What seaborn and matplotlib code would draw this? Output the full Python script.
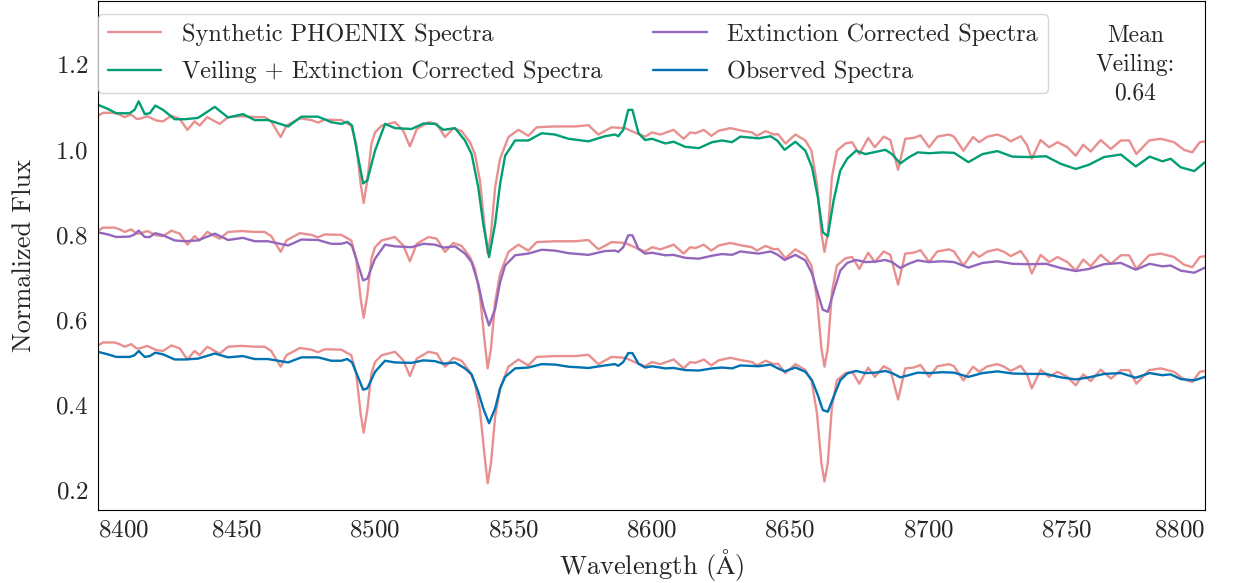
import numpy as np
import pandas as pd
import matplotlib
matplotlib.use("Agg")
import matplotlib.pyplot as plt
import seaborn as sns

# ---- data ----
syn_wave = [8400.0, 8401.8, 8406.0, 8407.8, 8409.6, 8412.0, 8413.9, 8415.1, 8417.8, 8421.1,
            8423.5, 8426.5, 8429.5, 8432.3, 8434.9, 8436.7, 8439.5, 8442.2, 8444.0, 8447.0,
            8451.8, 8456.6, 8460.2, 8462.6, 8464.4, 8466.0, 8468.1, 8472.9, 8477.1, 8479.5,
            8481.9, 8487.9, 8491.5, 8493.3, 8494.9, 8496.0, 8497.3, 8498.8,
            8500.1, 8502.5, 8507.3, 8510.3, 8512.7, 8515.2, 8519.4, 8522.4, 8525.4, 8528.4,
            8531.4, 8534.4, 8536.2, 8538.0, 8539.6, 8540.8, 8542.0, 8543.5, 8545.3, 8548.3,
            8551.9, 8555.5, 8558.5, 8565.1, 8572.4, 8577.2, 8580.8, 8585.6, 8590.4, 8595.3,
            8597.7,
            8600.2, 8603.2, 8608.0, 8611.6, 8614.0, 8615.9, 8618.9, 8621.6, 8624.3, 8628.5,
            8632.7, 8636.3, 8638.1, 8641.2, 8644.2, 8645.7, 8648.4, 8652.0, 8655.6, 8657.8,
            8659.8, 8661.4, 8662.5, 8663.7, 8665.2, 8667.0, 8670.1, 8672.5, 8675.1, 8678.3,
            8680.7, 8683.9, 8686.3, 8689.1, 8691.7, 8694.7, 8697.2,
            8700.3, 8703.3, 8707.5, 8709.3, 8712.7, 8716.2, 8718.4, 8721.4, 8725.0, 8727.4,
            8729.8, 8733.4, 8735.8, 8737.4, 8738.8, 8740.6, 8743.7, 8746.7, 8750.3, 8753.3,
            8756.0, 8758.7, 8762.3, 8766.0, 8769.6, 8772.6, 8775.2, 8779.8, 8784.0, 8788.8,
            8792.4, 8795.4, 8798.1, 8800.0]
syn_flux = [0.540, 0.547, 0.547, 0.543, 0.537, 0.543, 0.533, 0.533, 0.539, 0.529,
            0.527, 0.540, 0.533, 0.507, 0.527, 0.517, 0.537, 0.527, 0.521, 0.537,
            0.539, 0.537, 0.537, 0.527, 0.507, 0.490, 0.517, 0.534, 0.530, 0.524,
            0.531, 0.530, 0.517, 0.474, 0.380, 0.335, 0.388, 0.474,
            0.501, 0.517, 0.525, 0.505, 0.468, 0.509, 0.525, 0.521, 0.490, 0.511,
            0.504, 0.478, 0.450, 0.388, 0.286, 0.216, 0.263, 0.372, 0.439, 0.490,
            0.507, 0.493, 0.513, 0.515, 0.515, 0.518, 0.496, 0.513, 0.511, 0.497,
            0.491,
            0.501, 0.496, 0.507, 0.486, 0.501, 0.499, 0.507, 0.493, 0.505, 0.511,
            0.505, 0.501, 0.493, 0.504, 0.496, 0.497, 0.475, 0.496, 0.482, 0.458,
            0.380, 0.263, 0.220, 0.263, 0.396, 0.458, 0.475, 0.478, 0.450, 0.488,
            0.466, 0.491, 0.483, 0.413, 0.486, 0.488, 0.494,
            0.466, 0.491, 0.496, 0.491, 0.458, 0.490, 0.478, 0.491, 0.496, 0.490,
            0.480, 0.492, 0.470, 0.439, 0.458, 0.483, 0.466, 0.478, 0.466, 0.446,
            0.472, 0.456, 0.483, 0.462, 0.482, 0.482, 0.450, 0.482, 0.486, 0.478,
            0.460, 0.454, 0.478, 0.480]
syn_offsets = [0.0, 0.27, 0.54]

obs_wave = [8400.0, 8403.6, 8406.6, 8411.4, 8413.2, 8414.7, 8416.9, 8418.7, 8420.7, 8423.5,
            8427.7, 8431.3, 8436.1, 8442.2, 8447.0, 8452.4, 8456.6, 8461.4, 8468.7, 8473.5,
            8479.5, 8484.3, 8487.9, 8490.1, 8491.8, 8495.8, 8497.3,
            8500.1, 8503.7, 8507.3, 8513.3, 8517.6, 8521.8, 8524.8, 8529.0, 8532.6, 8535.0,
            8537.4, 8539.2, 8541.3, 8543.5, 8545.3, 8547.1, 8550.7, 8555.5, 8560.3, 8565.1,
            8570.0, 8577.2, 8583.2, 8586.8, 8588.0, 8589.8, 8591.6, 8593.1, 8595.3, 8597.7,
            8600.2, 8605.0, 8608.0, 8612.2, 8617.1, 8621.9, 8625.5, 8629.1, 8632.1, 8638.7,
            8643.0, 8645.4, 8648.1, 8652.0, 8655.6, 8658.0, 8660.1, 8661.9, 8663.7, 8665.8,
            8668.2, 8670.7, 8673.9, 8677.3, 8680.9, 8684.5, 8686.9, 8689.9, 8692.9, 8696.2,
            8700.3, 8705.1, 8709.3, 8714.5, 8719.6, 8725.0, 8730.4, 8736.4, 8742.5, 8747.9,
            8753.3, 8758.1, 8763.5, 8769.6, 8775.0, 8780.0, 8784.6, 8787.6, 8791.2, 8796.1,
            8800.0]
obs_flux = [0.525, 0.519, 0.513, 0.513, 0.517, 0.527, 0.513, 0.515, 0.523, 0.519,
            0.507, 0.507, 0.509, 0.521, 0.512, 0.515, 0.508, 0.508, 0.500, 0.512,
            0.512, 0.504, 0.504, 0.508, 0.500, 0.436, 0.439,
            0.478, 0.504, 0.500, 0.499, 0.505, 0.503, 0.497, 0.500, 0.486, 0.472,
            0.431, 0.392, 0.357, 0.392, 0.439, 0.466, 0.486, 0.488, 0.496, 0.495,
            0.490, 0.487, 0.493, 0.496, 0.492, 0.501, 0.522, 0.522, 0.497, 0.488,
            0.491, 0.486, 0.487, 0.482, 0.481, 0.486, 0.488, 0.486, 0.493, 0.491,
            0.495, 0.487, 0.479, 0.488, 0.478, 0.458, 0.423, 0.388, 0.384, 0.419,
            0.458, 0.474, 0.480, 0.475, 0.476, 0.480, 0.475, 0.465, 0.470, 0.476,
            0.475, 0.477, 0.476, 0.466, 0.475, 0.479, 0.474, 0.473, 0.473, 0.465,
            0.460, 0.465, 0.473, 0.475, 0.464, 0.475, 0.470, 0.472, 0.461, 0.458,
            0.466]
ext_flux = [0.806, 0.801, 0.795, 0.796, 0.801, 0.810, 0.795, 0.795, 0.804, 0.799,
            0.787, 0.785, 0.787, 0.803, 0.788, 0.793, 0.785, 0.785, 0.775, 0.789,
            0.788, 0.779, 0.779, 0.783, 0.774, 0.693, 0.697,
            0.744, 0.777, 0.773, 0.771, 0.779, 0.777, 0.770, 0.773, 0.756, 0.736,
            0.685, 0.630, 0.587, 0.626, 0.689, 0.728, 0.752, 0.756, 0.765, 0.763,
            0.757, 0.753, 0.762, 0.763, 0.760, 0.771, 0.799, 0.799, 0.767, 0.756,
            0.758, 0.752, 0.753, 0.746, 0.744, 0.751, 0.755, 0.753, 0.761, 0.756,
            0.761, 0.754, 0.741, 0.753, 0.740, 0.709, 0.662, 0.624, 0.619, 0.666,
            0.716, 0.734, 0.741, 0.736, 0.737, 0.741, 0.736, 0.722, 0.732, 0.740,
            0.736, 0.738, 0.736, 0.723, 0.734, 0.738, 0.732, 0.731, 0.732, 0.722,
            0.715, 0.720, 0.731, 0.734, 0.718, 0.732, 0.726, 0.728, 0.716, 0.711,
            0.723]
veil_flux = [1.106, 1.096, 1.086, 1.086, 1.094, 1.114, 1.084, 1.086, 1.104, 1.094,
             1.072, 1.072, 1.075, 1.101, 1.076, 1.084, 1.070, 1.070, 1.055, 1.078,
             1.078, 1.065, 1.061, 1.066, 1.057, 0.921, 0.928,
             0.998, 1.061, 1.051, 1.049, 1.062, 1.061, 1.047, 1.051, 1.022, 0.990,
             0.912, 0.826, 0.748, 0.826, 0.920, 0.986, 1.022, 1.022, 1.039, 1.036,
             1.026, 1.020, 1.032, 1.036, 1.032, 1.047, 1.094, 1.094, 1.039, 1.023,
             1.026, 1.015, 1.019, 1.007, 1.004, 1.018, 1.022, 1.018, 1.031, 1.027,
             1.032, 1.022, 1.000, 1.019, 0.998, 0.959, 0.889, 0.806, 0.797, 0.881,
             0.951, 0.979, 0.998, 0.990, 0.995, 1.000, 0.990, 0.968, 0.982, 0.994,
             0.992, 0.994, 0.993, 0.971, 0.990, 0.997, 0.984, 0.983, 0.985, 0.967,
             0.955, 0.965, 0.983, 0.989, 0.961, 0.984, 0.973, 0.979, 0.959, 0.950,
             0.971]

labels = ["Synthetic PHOENIX Spectra", "Veiling + Extinction Corrected Spectra",
          "Extinction Corrected Spectra", "Observed Spectra"]
colors = ["#E8908F", "#009E73", "#9467BD", "#0072B2"]
mean_veiling = 0.64

# ---- style ----
sns.set_style("white")
plt.rcParams["font.family"] = ["cmr10", "DejaVu Serif"]
plt.rcParams["mathtext.fontset"] = "cm"
plt.rcParams["axes.formatter.use_mathtext"] = True
plt.rcParams["axes.unicode_minus"] = False

fig = plt.figure(figsize=(12.4, 5.83), dpi=100)
ax = fig.add_axes([98 / 1240, 73 / 583, 1107 / 1240, 509 / 583])

syn = pd.DataFrame({"wave": syn_wave, "flux": syn_flux})
obs = pd.DataFrame({"wave": obs_wave, "obs": obs_flux, "ext": ext_flux, "veil": veil_flux})

lw = 1.7
for i, off in enumerate(syn_offsets):
    sns.lineplot(x=syn["wave"], y=syn["flux"] + off, ax=ax, color=colors[0], lw=lw,
                 sort=False, estimator=None, label=labels[0] if i == 0 else "_nolegend_")
sns.lineplot(data=obs, x="wave", y="veil", ax=ax, color=colors[1], lw=lw,
             sort=False, estimator=None, label=labels[1])
sns.lineplot(data=obs, x="wave", y="ext", ax=ax, color=colors[2], lw=lw,
             sort=False, estimator=None, label=labels[2])
sns.lineplot(data=obs, x="wave", y="obs", ax=ax, color=colors[3], lw=lw,
             sort=False, estimator=None, label=labels[3])

ax.set_xlim(8400, 8800)
ax.set_ylim(0.153, 1.35)
ax.set_xticks(np.arange(8400, 8801, 50))
ax.set_yticks([0.2, 0.4, 0.6, 0.8, 1.0, 1.2])
ax.tick_params(labelsize=18)
fig.canvas.draw()
xl = ax.get_xticklabels()
xl[0].set_horizontalalignment("left")
xl[-1].set_horizontalalignment("right")
ax.set_xlabel(r"Wavelength ($\mathrm{\AA}$)", fontsize=19)
ax.set_ylabel("Normalized Flux", fontsize=19, labelpad=14)
for s in ax.spines.values():
    s.set_color("black")
    s.set_linewidth(0.8)

leg = ax.legend(loc="upper left", ncol=2, fontsize=17.5, frameon=True,
                bbox_to_anchor=(0.0, 0.975), borderaxespad=0.0,
                labelspacing=0.6, columnspacing=2.1, handlelength=2.2,
                handletextpad=0.85)
leg.get_frame().set_edgecolor("#cccccc")

ax.text(0.937, 0.875, f"Mean\nVeiling:\n{mean_veiling}", transform=ax.transAxes,
        ha="center", va="center", fontsize=17, linespacing=1.4)

fig.savefig("out.png", dpi=100)
